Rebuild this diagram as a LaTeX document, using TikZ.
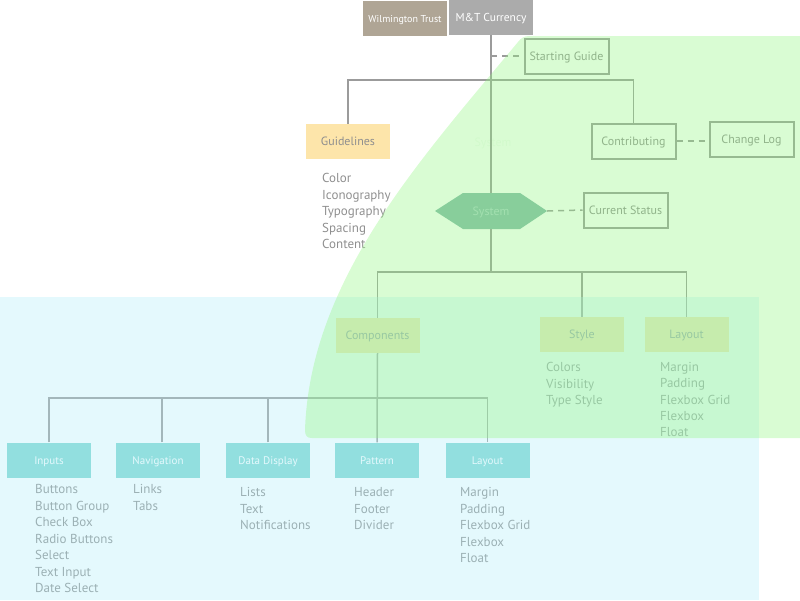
\documentclass[tikz,border=0pt]{standalone}
\usepackage{fontspec}
\setmainfont{PT Sans}
\usetikzlibrary{positioning}
\definecolor{linegray}{RGB}{155,155,155}
\definecolor{txtgray}{RGB}{143,143,143}
\definecolor{yellowbox}{RGB}{253,229,170}
\definecolor{tealbox}{RGB}{130,216,210}
\definecolor{hexfill}{RGB}{131,186,170}
\definecolor{hextext}{RGB}{172,212,201}
\definecolor{ghosttext}{RGB}{244,252,244}
\definecolor{wilmfill}{RGB}{175,165,149}
\definecolor{mtfill}{RGB}{171,171,171}
\definecolor{greenov}{RGB}{146,246,129}
\definecolor{blueov}{RGB}{178,238,249}
\tikzset{
  basebox/.style={minimum width=84pt, minimum height=35pt, inner sep=0pt, text height=8.5pt, text depth=0pt, font=\fontsize{12}{14}\selectfont},
  outlinebox/.style={basebox, draw=linegray, line width=2pt, text=txtgray},
  yellowb/.style={basebox, fill=yellowbox, text=txtgray},
  tealb/.style={basebox, fill=tealbox, text=white, font=\fontsize{11}{13}\selectfont},
  conn/.style={draw=linegray, line width=1.5pt},
  dconn/.style={conn, dash pattern=on 6pt off 5pt},
  listtxt/.style={anchor=base west, inner sep=0pt, text=txtgray, font=\fontsize{13}{15}\selectfont},
}
\begin{document}
\begin{tikzpicture}[x=1pt,y=-1pt]
\useasboundingbox (0,0) rectangle (800,600);

% top boxes
\node[basebox, fill=wilmfill, text=white, font=\fontsize{10}{12}\selectfont] (wt) at (405,18.5) {Wilmington Trust};
\node[basebox, fill=mtfill, text=white, font=\fontsize{11.5}{13}\selectfont] (mt) at (491,17.5) {M\&T Currency};

\node[outlinebox] (sg) at (566.5,56) {Starting Guide};
\node[yellowb] (gl) at (348,141.5) {Guidelines};
\node[outlinebox] (contrib) at (633.5,141) {Contributing};
\node[outlinebox] (cl) at (751.5,139) {Change Log};
\node[outlinebox] (cs) at (625.5,210) {Current Status};

% ghost label
\node[inner sep=0pt, text=ghosttext, font=\fontsize{12}{14}\selectfont] (ghost) at (493,143) {System};

% hexagon
\fill[hexfill] (435,211) -- (463,193) -- (520,193) -- (547,211) -- (520,229) -- (463,229) -- cycle;
\node[inner sep=0pt, minimum width=112pt, minimum height=36pt, text height=8.5pt, text depth=0pt, text=hextext, font=\fontsize{12}{14}\selectfont] (sys) at (491,211) {System};

% second level
\node[yellowb] (comp) at (377.5,335.5) {Components};
\node[yellowb] (sty) at (582,334.5) {Style};
\node[yellowb] (lay1) at (686.5,334.5) {Layout};

% third level
\node[tealb] (inp) at (49,460) {Inputs};
\node[tealb] (nav) at (158,460) {Navigation};
\node[tealb] (dd) at (268,460) {Data Display};
\node[tealb] (pat) at (377,460) {Pattern};
\node[tealb] (lay2) at (487.5,460) {Layout};

% connectors
\coordinate (bus1) at (491,80);
\coordinate (bus2) at (491,272);
\coordinate (bus3) at (377,398);
\draw[conn] (mt.south) -- (sys.north);
\draw[dconn] (mt.south |- sg.west) -- (sg.west);
\draw[conn] (gl.north) |- (bus1) -| (contrib.north);
\draw[dconn] (contrib.east) -- (contrib.east -| cl.west);
\draw[dconn] (sys.east) -- (cs.west);
\draw[conn] (sys.south) -- (bus2);
\draw[conn] (comp.north) |- (bus2) -| (lay1.north);
\draw[conn] (sty.north) -- (sty.north |- bus2);
\draw[conn] (comp.south) -- (pat.north);
\draw[conn] (inp.north) |- (bus3) -| (lay2.north);
\draw[conn] ([xshift=4pt]nav.north) -- ([xshift=4pt]nav.north |- bus3);
\draw[conn] (dd.north) -- (dd.north |- bus3);

% lists
\foreach \t [count=\i from 0] in {Color,Iconography,Typography,Spacing,Content}
  \node[listtxt] (gli\i) at (322,182.5+16.5*\i) {\t};
\foreach \t [count=\i from 0] in {Colors,Visibility,Type Style}
  \node[listtxt] (sti\i) at (546,371.5+16.5*\i) {\t};
\foreach \t [count=\i from 0] in {Margin,Padding,Flexbox Grid,Flexbox,Float}
  \node[listtxt] (lai\i) at (660,371.5+16.3*\i) {\t};
\foreach \t [count=\i from 0] in {Buttons,Button Group,Check Box,Radio Buttons,Select,Text Input,Date Select}
  \node[listtxt] (ini\i) at (35,493.5+16.5*\i) {\t};
\foreach \t [count=\i from 0] in {Links,Tabs}
  \node[listtxt] (nvi\i) at (133,493.5+16.5*\i) {\t};
\foreach \t [count=\i from 0] in {Lists,Text,Notifications}
  \node[listtxt] (ddi\i) at (240,496.5+16.5*\i) {\t};
\foreach \t [count=\i from 0] in {Header,Footer,Divider}
  \node[listtxt] (pai\i) at (354,496.5+16.5*\i) {\t};
\foreach \t [count=\i from 0] in {Margin,Padding,Flexbox Grid,Flexbox,Float}
  \node[listtxt] (lbi\i) at (460,496.5+16.5*\i) {\t};

% translucent overlays
\fill[blueov, fill opacity=0.35] (0,297) rectangle (759,600);
\fill[greenov, fill opacity=0.35] (800,36) -- (530,36)
  .. controls (524,36) and (521,38) .. (518,42)
  .. controls (420,160) and (310,280) .. (305,430)
  .. controls (305,436) and (307,438) .. (312,438)
  -- (800,438) -- cycle;
\end{tikzpicture}
\end{document}
